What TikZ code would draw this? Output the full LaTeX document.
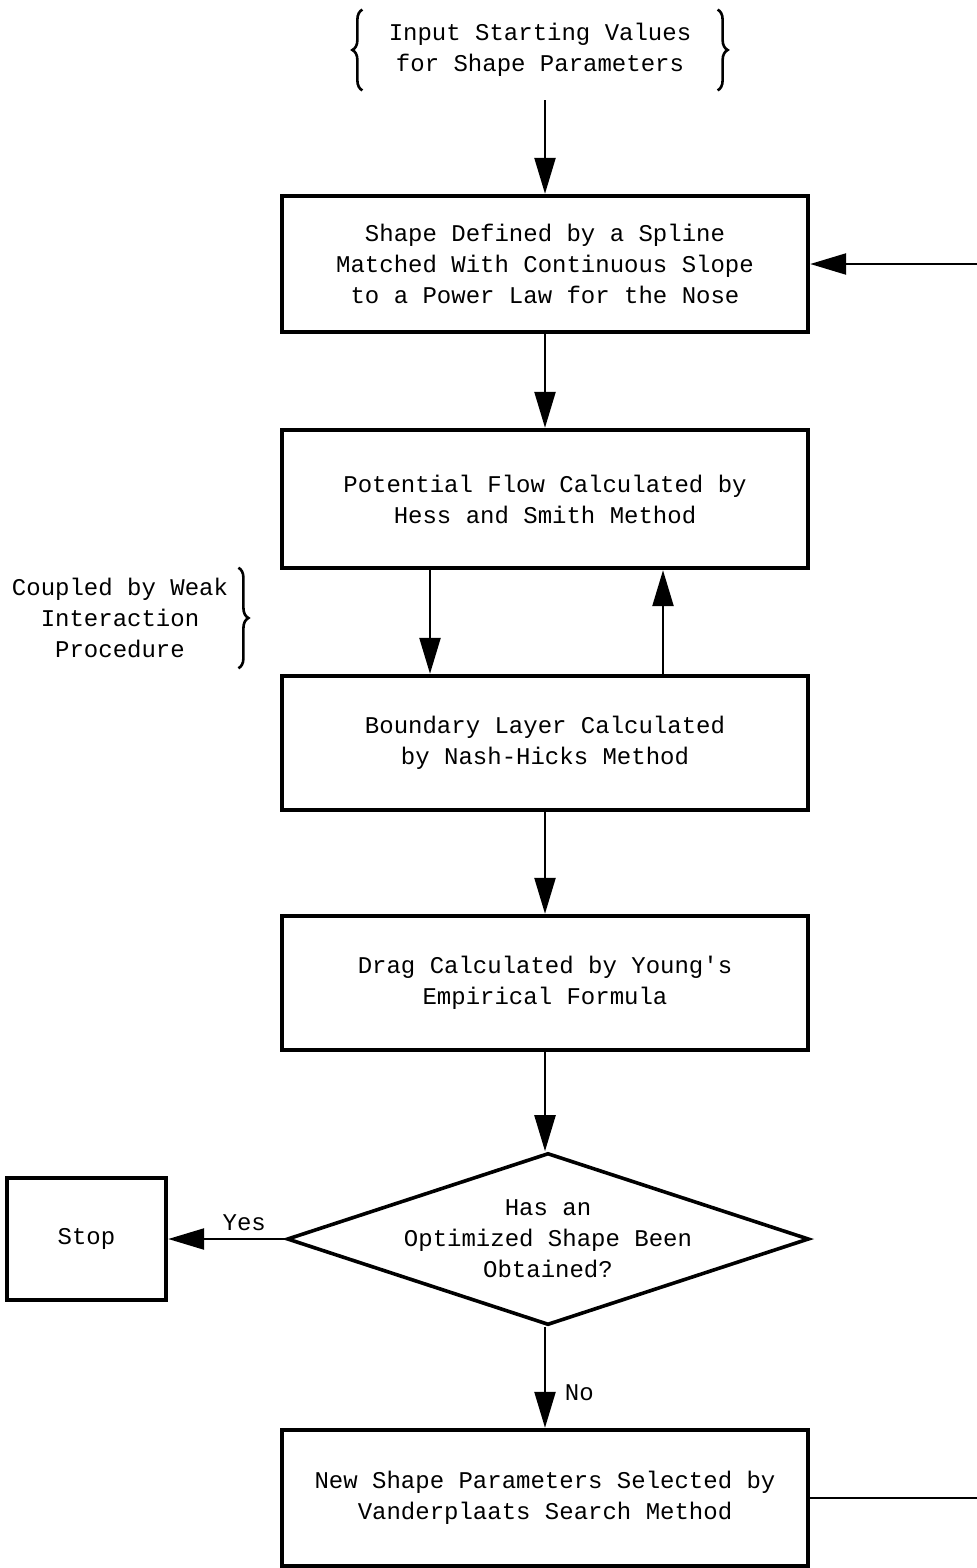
\documentclass[tikz,border=0pt]{standalone}
\usepackage{fontspec}
\setmonofont{Liberation Mono}
\usetikzlibrary{arrows.meta,shapes.geometric,decorations.pathreplacing}

\begin{document}
\begin{tikzpicture}[x=0.5pt,y=-0.5pt,
		font=\ttfamily\fontsize{12}{15.5}\selectfont,
		blk/.style={draw,line width=2.2pt,minimum width=263pt,minimum height=68pt,align=center,inner sep=0pt},
		dec/.style={diamond,draw,line width=1.8pt,minimum width=261pt,minimum height=86pt,inner sep=0pt},
		flow/.style={line width=1.2pt,-{Triangle[length=18pt,width=10.5pt]}},
		brc/.style={decorate,decoration={brace,amplitude=5pt},line width=1.3pt}]
		\useasboundingbox (0,0) rectangle (977,1568);
		\clip (0,0) rectangle (977,1568);

		\draw (540,50) node [align=center,minimum height=40pt,inner xsep=13pt] (inp) {Input Starting Values\\for Shape Parameters};
		\draw (545,264) node [blk] (shape) {Shape Defined by a Spline\\Matched With Continuous Slope\\to a Power Law for the Nose};
		\draw (545,499) node [blk,minimum height=69pt] (pot) {Potential Flow Calculated by\\Hess and Smith Method};
		\draw (545,743) node [blk,minimum height=67pt] (bnd) {Boundary Layer Calculated\\by Nash-Hicks Method};
		\draw (545,983) node [blk,minimum height=67pt] (drag) {Drag Calculated by Young's\\Empirical Formula};
		\draw (548,1239) node [dec] (chk) {};
		\draw (chk) node [align=center] (chktxt) {Has an\\Optimized Shape Been\\Obtained?};
		\draw (86.5,1239) node [blk,minimum width=79.5pt,minimum height=61pt] (stop) {Stop};
		\draw (545,1498) node [blk] (newp) {New Shape Parameters Selected by\\Vanderplaats Search Method};
		\draw (120,618) node [align=center,minimum height=40pt,inner sep=5pt] (cpl) {Coupled by Weak\\Interaction\\Procedure};
		\coordinate (rt) at (995,1498);

		\draw[brc] (inp.south west) -- (inp.north west);
		\draw[brc] (inp.north east) -- (inp.south east);
		\draw[brc] (cpl.north east) -- (cpl.south east);

		\draw[flow,shorten <=5pt] (inp.south -| shape.north) -- (shape.north);
		\draw[flow] (shape.south) -- (pot.north);
		\draw[flow] ([xshift=-57.5pt]pot.south) -- ([xshift=-57.5pt]bnd.north);
		\draw[flow] ([xshift=59pt]bnd.north) -- ([xshift=59pt]pot.south);
		\draw[flow] (bnd.south) -- (drag.north);
		\draw[flow] (drag.south) -- (chk.north -| drag.south);
		\draw[flow] (chk.west) -- node [above,pos=0.35] {Yes} (stop.east);
		\draw[flow] (chk.south -| newp.north) -- node [right=6pt,pos=0.65] {No} (newp.north);
		\draw[flow] (newp.east) -- (newp.east -| rt) |- (shape.east);
	\end{tikzpicture}
\end{document}
